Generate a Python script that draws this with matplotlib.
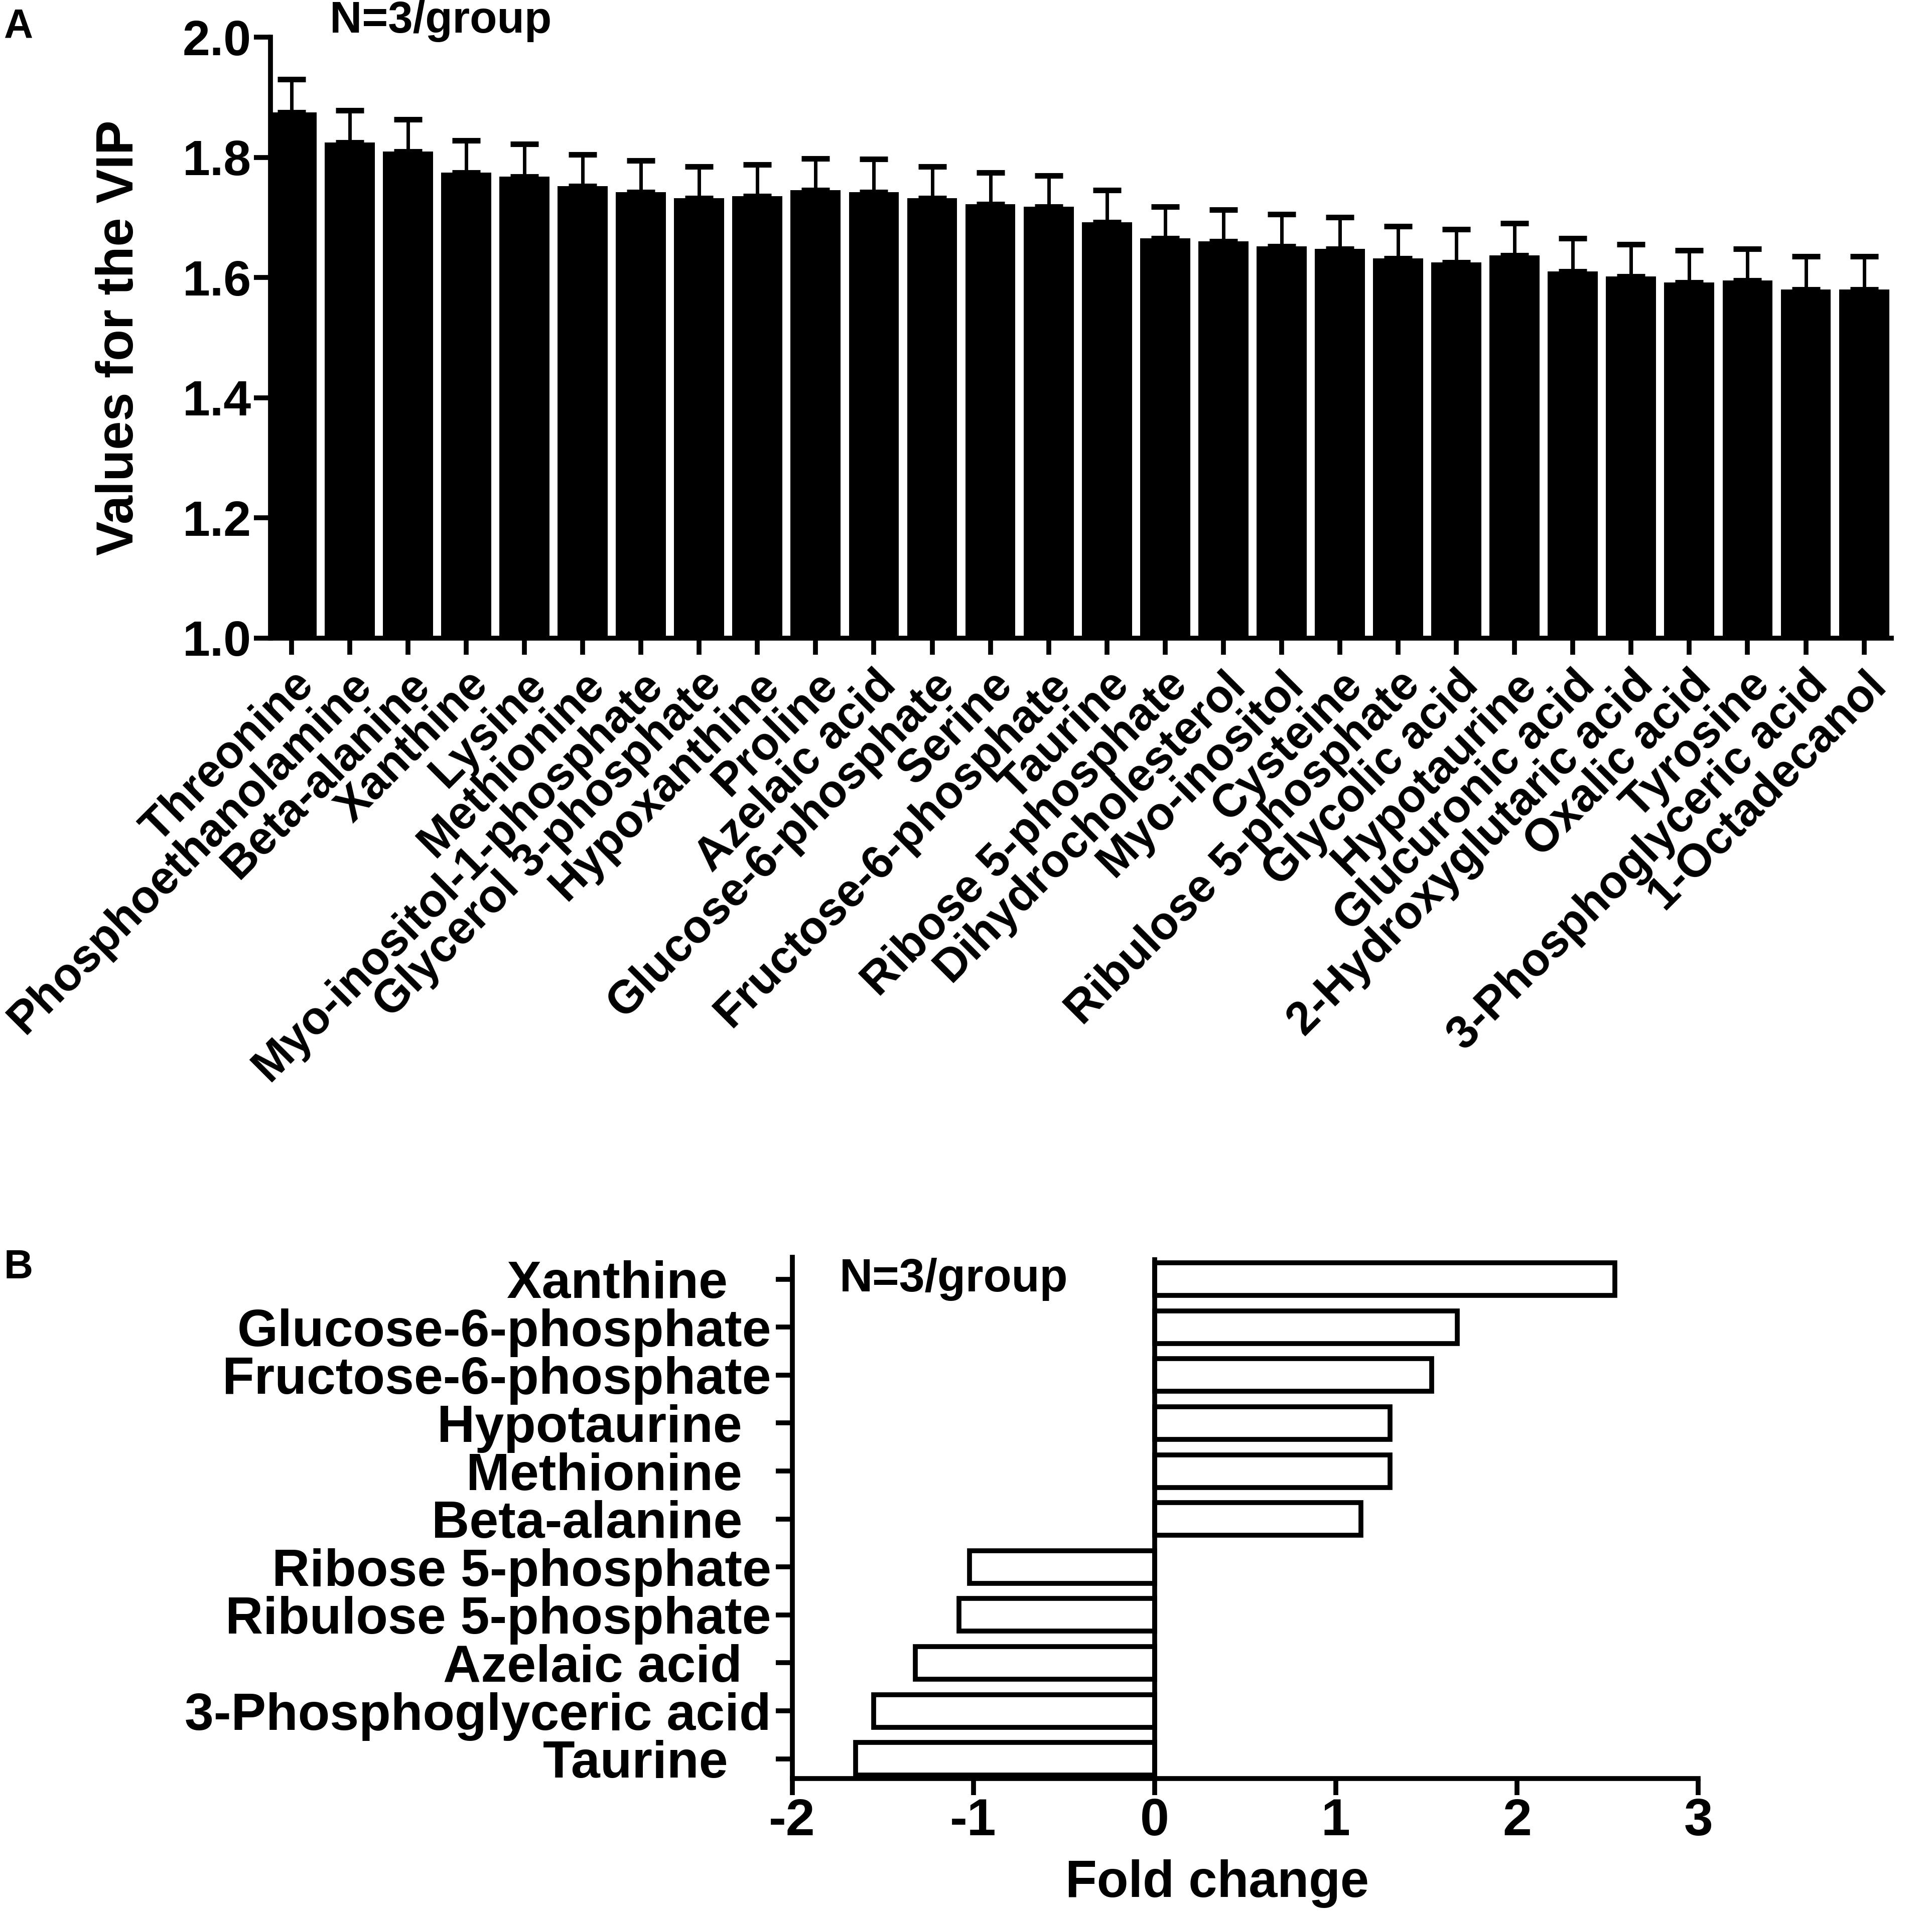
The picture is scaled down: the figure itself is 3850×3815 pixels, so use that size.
import matplotlib
matplotlib.use("Agg")
import matplotlib.pyplot as plt
import numpy as np

plt.rcParams['font.family'] = ['Liberation Sans', 'DejaVu Sans']
plt.rcParams['font.weight'] = 'bold'

# panel A: VIP values
vip_names = ["Threonine", "Phosphoethanolamine", "Beta-alanine", "Xanthine", "Lysine",
             "Methionine", "Myo-inositol-1-phosphate", "Glycerol 3-phosphate", "Hypoxanthine",
             "Proline", "Azelaic acid", "Glucose-6-phosphate", "Serine", "Fructose-6-phosphate",
             "Taurine", "Ribose 5-phosphate", "Dihydrocholesterol", "Myo-inositol", "Cysteine",
             "Ribulose 5-phosphate", "Glycolic acid", "Hypotaurine", "Glucuronic acid",
             "2-Hydroxyglutaric acid", "Oxalic acid", "Tyrosine", "3-Phosphoglyceric acid",
             "1-Octadecanol"]
vip_values = [1.875, 1.825, 1.81, 1.775, 1.768, 1.752, 1.742, 1.732, 1.735, 1.745, 1.742,
              1.732, 1.722, 1.718, 1.692, 1.665, 1.660, 1.652, 1.648, 1.632, 1.625, 1.637,
              1.610, 1.602, 1.592, 1.595, 1.580, 1.580]
vip_err = [0.055, 0.053, 0.053, 0.053, 0.054, 0.053, 0.053, 0.053, 0.053, 0.053, 0.055,
           0.053, 0.053, 0.052, 0.053, 0.053, 0.053, 0.053, 0.052, 0.053, 0.055, 0.053,
           0.055, 0.053, 0.053, 0.053, 0.055, 0.055]

# panel B: fold change
fc_names = ["Xanthine   ", "Glucose-6-phosphate", "Fructose-6-phosphate", "Hypotaurine  ",
            "Methionine  ", "Beta-alanine  ", "Ribose 5-phosphate", "Ribulose 5-phosphate",
            "Azelaic acid  ", "3-Phosphoglyceric acid", "Taurine   "]
fc_values = [2.54, 1.67, 1.53, 1.30, 1.30, 1.14, -1.02, -1.08, -1.32, -1.55, -1.65]

fig = plt.figure(figsize=(38.5, 38.15), dpi=100)

# ---- panel A ----
axA = fig.add_axes([0.140, 0.6666, 0.839, 0.314])
x = np.arange(len(vip_names))
axA.bar(x, vip_values, width=0.86, color='black')
axA.errorbar(x, vip_values, yerr=[np.zeros(len(vip_err)), vip_err], fmt='none',
             ecolor='black', elinewidth=5, capsize=20, capthick=8)
axA.set_ylim(1.0, 2.0)
axA.set_xlim(-0.36, len(vip_names) - 0.53)
axA.set_yticks([1.0, 1.2, 1.4, 1.6, 1.8, 2.0])
axA.set_yticklabels(["1.0", "1.2", "1.4", "1.6", "1.8", "2.0"])
axA.set_xticks(x)
axA.set_xticklabels(vip_names, rotation=45, ha='right', rotation_mode='anchor')
axA.tick_params(axis='both', labelsize=71, width=7, length=24)
axA.tick_params(axis='x', labelsize=66, pad=12)
for s in ['top', 'right']:
    axA.spines[s].set_visible(False)
for s in ['left', 'bottom']:
    axA.spines[s].set_linewidth(7)
axA.set_ylabel("Values for the VIP", fontsize=74, fontweight='bold')
axA.yaxis.set_label_coords(-0.078, 0.5)
axA.text(0.66, 2.027, "N=3/group", fontsize=64, fontweight='bold', va='center', ha='left',
         clip_on=False)

# ---- panel B ----
axB = fig.add_axes([0.410, 0.0708, 0.469, 0.2724])
y = np.arange(len(fc_names))
axB.barh(y, fc_values, height=0.68, color='white', edgecolor='black', linewidth=7)
axB.axvline(0, color='black', linewidth=7)
axB.set_xlim(-2, 3)
axB.set_ylim(len(fc_names) - 1 + 0.41, -0.46)
axB.set_xticks([-2, -1, 0, 1, 2, 3])
axB.set_xticklabels(["-2", "-1", "0", "1", "2", "3"])
axB.set_yticks(y)
axB.set_yticklabels(fc_names)
axB.tick_params(axis='both', labelsize=75, width=7, length=24)
axB.tick_params(axis='y', pad=6)
for s in ['top', 'right']:
    axB.spines[s].set_visible(False)
for s in ['left', 'bottom']:
    axB.spines[s].set_linewidth(7)
axB.set_xlabel("Fold change", fontsize=74, fontweight='bold', va='center')
axB.xaxis.set_label_coords(0.469, -0.202)
axB.text(-1.74, 0, "N=3/group", fontsize=66, fontweight='bold', va='center', ha='left')

fig.text(0.002, 0.996, "A", fontsize=58, fontweight='bold', va='top', ha='left')
fig.text(0.002, 0.3475, "B", fontsize=58, fontweight='bold', va='top', ha='left')

fig.savefig("out.png", dpi=100)
